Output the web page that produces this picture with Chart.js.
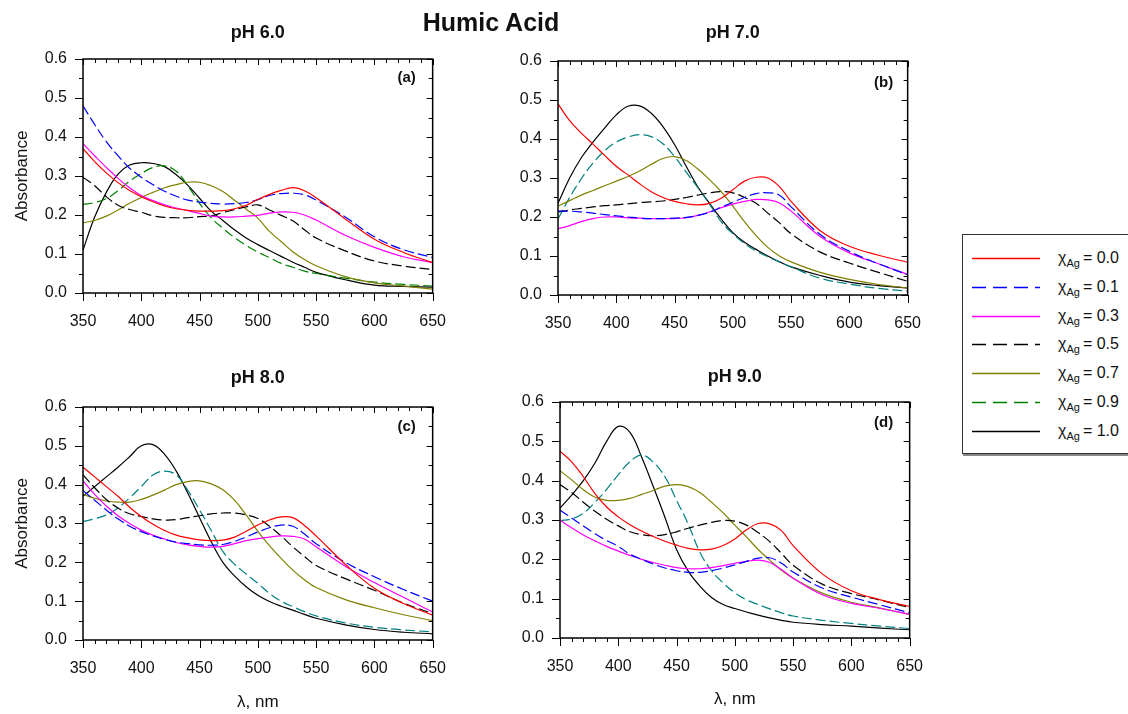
<!DOCTYPE html>
<html>
<head>
<meta charset="utf-8">
<script src="https://cdn.jsdelivr.net/npm/chart.js@4.4.1/dist/chart.umd.min.js"></script>
<style>
  html, body { margin: 0; padding: 0; background: #fff; }
  #page { position: relative; width: 1128px; height: 714px; overflow: hidden; background: #fff;
          font-family: "Liberation Sans", Arial, sans-serif; color: #111; }
  #page canvas { position: absolute; }
  #mainTitle { position: absolute; left: 341px; width: 300px; top: 7px; text-align: center;
               font-weight: bold; font-size: 25px; line-height: 30px; }
  #legend { position: absolute; left: 962px; top: 234px; width: 190px; height: 218px;
            border: 1.5px solid #333; box-shadow: 1px 2px 0 #888; background: #fff; }
  #legend .row { position: absolute; left: 9px; height: 20px; width: 190px; }
  #legend svg { position: absolute; left: 0; top: 0; }
  #legend .lab { position: absolute; left: 86px; top: 0; font-size: 16px; line-height: 20px; white-space: nowrap; }
  #legend .lab sub { font-size: 11px; vertical-align: -4px; line-height: 0; margin-right: 3px; }
</style>
</head>
<body>
<div id="page">
  <div id="mainTitle">Humic Acid</div>
  <div id="legend"></div>
</div>
<script>
// ---------------- data ----------------
const wavelengths = [350,360,370,380,390,400,410,420,430,440,450,460,470,480,490,500,510,520,530,540,550,575,600,625,650];
const xTickLabels = [350,400,450,500,550,600,650];
const yTickLabels = [0.0,0.1,0.2,0.3,0.4,0.5,0.6];
const chiLabels = ['0.0','0.1','0.3','0.5','0.7','0.9','1.0'];
const panelTitles = ['pH 6.0','pH 7.0','pH 8.0','pH 9.0'];
const panelLetters = ['(a)','(b)','(c)','(d)'];

// pH 6.0
const pH6_chi00 = [0.370,0.337,0.308,0.283,0.263,0.247,0.234,0.223,0.216,0.212,0.210,0.210,0.211,0.216,0.225,0.240,0.253,0.263,0.270,0.262,0.244,0.190,0.138,0.104,0.078];
const pH6_chi01 = [0.480,0.432,0.388,0.352,0.320,0.297,0.278,0.261,0.248,0.238,0.233,0.230,0.228,0.229,0.232,0.239,0.250,0.255,0.256,0.252,0.238,0.195,0.144,0.111,0.091];
const pH6_chi03 = [0.383,0.352,0.322,0.294,0.270,0.250,0.237,0.226,0.218,0.211,0.204,0.197,0.195,0.195,0.197,0.199,0.205,0.208,0.207,0.200,0.187,0.148,0.117,0.093,0.078];
const pH6_chi05 = [0.297,0.275,0.247,0.225,0.214,0.207,0.198,0.194,0.193,0.193,0.196,0.198,0.206,0.214,0.221,0.226,0.213,0.199,0.185,0.162,0.141,0.108,0.082,0.069,0.060];
const pH6_chi07 = [0.180,0.186,0.197,0.213,0.230,0.245,0.258,0.270,0.278,0.284,0.284,0.275,0.260,0.238,0.215,0.192,0.158,0.132,0.106,0.086,0.070,0.042,0.026,0.018,0.010];
const pH6_chi09 = [0.227,0.232,0.242,0.262,0.287,0.306,0.322,0.326,0.312,0.275,0.230,0.193,0.166,0.142,0.122,0.105,0.091,0.076,0.066,0.056,0.050,0.038,0.028,0.022,0.018];
const pH6_chi10 = [0.110,0.195,0.258,0.305,0.328,0.334,0.332,0.324,0.303,0.276,0.243,0.210,0.186,0.162,0.141,0.124,0.109,0.094,0.079,0.066,0.053,0.034,0.020,0.017,0.015];

// pH 7.0
const pH7_chi00 = [0.490,0.447,0.415,0.387,0.358,0.330,0.308,0.285,0.265,0.250,0.240,0.234,0.231,0.235,0.248,0.270,0.292,0.302,0.300,0.278,0.240,0.165,0.125,0.102,0.084];
const pH7_chi01 = [0.215,0.215,0.213,0.210,0.206,0.203,0.200,0.197,0.196,0.196,0.197,0.199,0.204,0.212,0.225,0.238,0.250,0.260,0.262,0.256,0.226,0.155,0.112,0.080,0.052];
const pH7_chi03 = [0.170,0.178,0.188,0.196,0.200,0.200,0.198,0.197,0.196,0.196,0.196,0.198,0.204,0.213,0.224,0.233,0.240,0.245,0.244,0.236,0.215,0.150,0.108,0.080,0.053];
const pH7_chi05 = [0.213,0.218,0.222,0.226,0.229,0.231,0.234,0.237,0.239,0.241,0.245,0.250,0.256,0.262,0.265,0.262,0.250,0.235,0.210,0.185,0.157,0.110,0.082,0.058,0.035];
const pH7_chi07 = [0.228,0.242,0.256,0.268,0.280,0.292,0.304,0.318,0.335,0.350,0.355,0.345,0.323,0.296,0.265,0.228,0.188,0.152,0.122,0.100,0.085,0.058,0.040,0.027,0.018];
const pH7_chi09 = [0.195,0.250,0.298,0.338,0.370,0.392,0.405,0.411,0.406,0.388,0.355,0.315,0.275,0.233,0.188,0.157,0.132,0.113,0.098,0.085,0.072,0.043,0.028,0.017,0.010];
const pH7_chi10 = [0.235,0.300,0.352,0.392,0.428,0.462,0.484,0.485,0.466,0.432,0.386,0.330,0.277,0.235,0.195,0.160,0.135,0.117,0.100,0.085,0.072,0.050,0.033,0.024,0.018];

// pH 8.0
const pH8_chi00 = [0.445,0.420,0.395,0.370,0.342,0.318,0.298,0.282,0.270,0.263,0.258,0.256,0.257,0.265,0.280,0.296,0.309,0.317,0.315,0.295,0.268,0.195,0.133,0.094,0.064];
const pH8_chi01 = [0.385,0.360,0.335,0.312,0.293,0.279,0.268,0.259,0.252,0.248,0.245,0.244,0.246,0.254,0.265,0.278,0.289,0.296,0.293,0.273,0.248,0.200,0.163,0.130,0.100];
const pH8_chi03 = [0.410,0.375,0.345,0.320,0.300,0.283,0.270,0.260,0.251,0.245,0.241,0.239,0.241,0.248,0.256,0.261,0.265,0.268,0.267,0.260,0.240,0.190,0.148,0.110,0.072];
const pH8_chi05 = [0.425,0.392,0.362,0.340,0.325,0.318,0.312,0.309,0.310,0.315,0.320,0.325,0.327,0.327,0.322,0.313,0.293,0.268,0.240,0.215,0.192,0.158,0.128,0.095,0.068];
const pH8_chi07 = [0.375,0.365,0.358,0.355,0.355,0.362,0.373,0.386,0.400,0.408,0.410,0.402,0.387,0.360,0.322,0.280,0.243,0.210,0.180,0.155,0.135,0.104,0.083,0.065,0.050];
const pH8_chi09 = [0.305,0.312,0.322,0.340,0.366,0.395,0.425,0.435,0.425,0.385,0.335,0.282,0.228,0.195,0.170,0.146,0.120,0.100,0.086,0.073,0.062,0.044,0.033,0.026,0.021];
const pH8_chi10 = [0.370,0.395,0.420,0.445,0.472,0.500,0.503,0.478,0.435,0.378,0.315,0.253,0.200,0.165,0.137,0.115,0.099,0.087,0.077,0.066,0.056,0.039,0.027,0.020,0.016];

// pH 9.0
const pH9_chi00 = [0.475,0.448,0.410,0.367,0.333,0.308,0.288,0.272,0.258,0.246,0.236,0.228,0.224,0.226,0.235,0.252,0.275,0.291,0.290,0.273,0.235,0.163,0.120,0.097,0.080];
const pH9_chi01 = [0.325,0.305,0.285,0.265,0.248,0.233,0.213,0.200,0.188,0.178,0.171,0.167,0.167,0.171,0.178,0.186,0.195,0.203,0.204,0.190,0.168,0.127,0.104,0.084,0.064];
const pH9_chi03 = [0.300,0.280,0.262,0.247,0.233,0.221,0.210,0.200,0.192,0.185,0.179,0.176,0.176,0.179,0.184,0.190,0.195,0.198,0.192,0.174,0.152,0.110,0.088,0.075,0.060];
const pH9_chi05 = [0.390,0.370,0.345,0.322,0.302,0.285,0.270,0.263,0.260,0.263,0.270,0.279,0.287,0.294,0.299,0.297,0.287,0.268,0.245,0.215,0.185,0.137,0.113,0.096,0.077];
const pH9_chi07 = [0.425,0.402,0.377,0.358,0.350,0.350,0.355,0.365,0.375,0.386,0.390,0.385,0.370,0.345,0.318,0.287,0.257,0.225,0.198,0.172,0.152,0.114,0.091,0.076,0.060];
const pH9_chi09 = [0.298,0.303,0.317,0.345,0.378,0.415,0.448,0.465,0.447,0.410,0.350,0.290,0.218,0.171,0.140,0.115,0.097,0.085,0.074,0.064,0.056,0.045,0.037,0.030,0.024];
const pH9_chi10 = [0.330,0.363,0.400,0.445,0.500,0.538,0.523,0.460,0.385,0.307,0.225,0.170,0.132,0.103,0.085,0.075,0.066,0.058,0.051,0.045,0.040,0.034,0.030,0.025,0.021];

// ---------------- styles ----------------
const FONT = '"Liberation Sans", Arial, sans-serif';
const seriesColors = ['#ff0000','#0000ff','#ff00ff','#000000','#808000','#008000','#000000'];
const tealColor = '#008080';
const seriesDash = [[], [10,4], [], [10,4], [], [10,4], []];

const page = document.getElementById('page');

const frameTicks = {
  id: 'frameTicks',
  afterDatasetsDraw(chart, args, opts) {
    const {ctx, chartArea: a} = chart;
    const xs = chart.scales.x, ys = chart.scales.y;
    ctx.save();
    ctx.strokeStyle = '#000';
    ctx.lineWidth = 1;
    ctx.beginPath();
    for (let v = xs.min; v <= xs.max; v += 10) {
      const p = Math.round(xs.getPixelForValue(v)) + 0.5;
      const major = v % 50 === 0;
      ctx.moveTo(p, a.bottom); ctx.lineTo(p, a.bottom + (major ? 8 : 4));
      ctx.moveTo(p, a.top); ctx.lineTo(p, a.top + (major ? 6 : 4));
    }
    for (let i = 0; i <= 12; i++) {
      const p = Math.round(ys.getPixelForValue(i * 0.05)) + 0.5;
      const major = i % 2 === 0;
      ctx.moveTo(a.left, p); ctx.lineTo(a.left - (major ? 8 : 4), p);
      ctx.moveTo(a.right, p); ctx.lineTo(a.right - (major ? 6 : 4), p);
    }
    ctx.stroke();
    ctx.lineWidth = 1.5;
    ctx.strokeRect(a.left, a.top, a.right - a.left, a.bottom - a.top);
    ctx.fillStyle = '#111';
    ctx.font = 'bold 15px ' + FONT;
    ctx.textAlign = 'center';
    ctx.textBaseline = 'middle';
    ctx.fillText(opts.letter, a.right - opts.dx, a.top + opts.dy);
    ctx.restore();
  }
};

function makePanel(cfg) {
  const canvas = document.createElement('canvas');
  const left = cfg.L - 83, top = cfg.T - 50;
  const w = cfg.R - cfg.L + 83 + 20, h = cfg.bottomEdge - top;
  canvas.width = w; canvas.height = h;
  canvas.style.left = left + 'px'; canvas.style.top = top + 'px';
  canvas.style.width = w + 'px'; canvas.style.height = h + 'px';
  page.insertBefore(canvas, page.firstChild);
  new Chart(canvas, {
    type: 'line',
    data: {
      datasets: cfg.series.map((vals, i) => ({
        label: 'χAg = ' + chiLabels[i],
        data: wavelengths.map((x, j) => ({x: x, y: vals[j]})),
        borderColor: i === 5 ? cfg.color09 : seriesColors[i],
        borderDash: seriesDash[i],
        borderWidth: 1.2,
        pointRadius: 0,
        fill: false,
        tension: 0.4
      }))
    },
    options: {
      responsive: false,
      animation: false,
      devicePixelRatio: 1,
      events: [],
      layout: {padding: {left: 0, right: 20, top: 0, bottom: 0}},
      plugins: {
        legend: {display: false},
        tooltip: {enabled: false},
        title: {
          display: true, text: cfg.title, fullSize: false, color: '#111',
          font: {family: FONT, size: 18, weight: 'bold', lineHeight: 1.2},
          padding: {top: cfg.titleY - top - 10.8, bottom: cfg.T - cfg.titleY - 10.8}
        },
        frameTicks: {letter: cfg.letter, dx: cfg.ldx, dy: cfg.ldy}
      },
      scales: {
        x: {
          type: 'linear', min: 350, max: 650,
          afterBuildTicks: s => { s.ticks = xTickLabels.map(v => ({value: v})); },
          ticks: {padding: 19, color: '#111', font: {family: FONT, size: 16}, maxRotation: 0, autoSkip: false},
          grid: {display: false, drawTicks: false},
          border: {display: false},
          title: {display: cfg.xTitle, text: 'λ, nm', color: '#111',
                  font: {family: FONT, size: 17, lineHeight: 1.2},
                  padding: {top: 0, bottom: cfg.xTitlePad}},
          afterFit: s => { s.height = cfg.bottomEdge - cfg.B; }
        },
        y: {
          type: 'linear', min: 0, max: 0.6,
          afterBuildTicks: s => { s.ticks = yTickLabels.map(v => ({value: v})); },
          ticks: {padding: 16, color: '#111', font: {family: FONT, size: 16},
                  callback: v => Number(v).toFixed(1)},
          grid: {display: false, drawTicks: false},
          border: {display: false},
          title: {display: cfg.yTitle, text: 'Absorbance', color: '#111',
                  font: {family: FONT, size: 17, lineHeight: 1.2},
                  padding: {top: 12, bottom: 0}},
          afterFit: s => { s.width = 83; }
        }
      }
    },
    plugins: [frameTicks]
  });
}

makePanel({title: panelTitles[0], letter: panelLetters[0], L: 83, R: 445, T: 59, B: 293, titleY: 33, bottomEdge: 340,
  yTitle: true, xTitle: false, xTitlePad: 0, color09: seriesColors[5], ldx: 26, ldy: 19,
  series: [pH6_chi00, pH6_chi01, pH6_chi03, pH6_chi05, pH6_chi07, pH6_chi09, pH6_chi10]});
makePanel({title: panelTitles[1], letter: panelLetters[1], L: 558, R: 920, T: 61, B: 295, titleY: 33, bottomEdge: 342,
  yTitle: false, xTitle: false, xTitlePad: 0, color09: tealColor, ldx: 24, ldy: 22,
  series: [pH7_chi00, pH7_chi01, pH7_chi03, pH7_chi05, pH7_chi07, pH7_chi09, pH7_chi10]});
makePanel({title: panelTitles[2], letter: panelLetters[2], L: 83, R: 445, T: 407, B: 640, titleY: 378, bottomEdge: 714,
  yTitle: true, xTitle: true, xTitlePad: 1, color09: tealColor, ldx: 26, ldy: 20,
  series: [pH8_chi00, pH8_chi01, pH8_chi03, pH8_chi05, pH8_chi07, pH8_chi09, pH8_chi10]});
makePanel({title: panelTitles[3], letter: panelLetters[3], L: 560, R: 922, T: 402, B: 638, titleY: 377, bottomEdge: 714,
  yTitle: false, xTitle: true, xTitlePad: 4, color09: tealColor, ldx: 26, ldy: 21,
  series: [pH9_chi00, pH9_chi01, pH9_chi03, pH9_chi05, pH9_chi07, pH9_chi09, pH9_chi10]});

// ---------------- legend ----------------
const legend = document.getElementById('legend');
chiLabels.forEach((c, i) => {
  const row = document.createElement('div');
  row.className = 'row';
  row.style.top = (23 + i * 28.8 - 10) + 'px';
  const dash = seriesDash[i].length ? 'stroke-dasharray="14 7"' : '';
  row.innerHTML = '<svg width="72" height="20"><line x1="0" y1="10.5" x2="68" y2="10.5" stroke="' +
    seriesColors[i] + '" stroke-width="1.5" ' + dash + '/></svg>' +
    '<span class="lab">χ<sub>Ag</sub>= ' + c + '</span>';
  legend.appendChild(row);
});
</script>
</body>
</html>
